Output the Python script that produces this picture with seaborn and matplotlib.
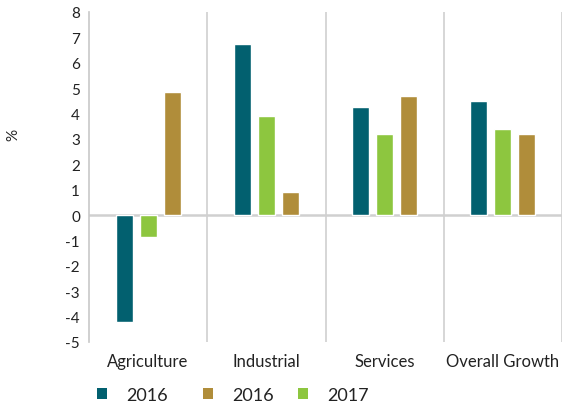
import matplotlib
matplotlib.use("Agg")
import matplotlib.pyplot as plt
from matplotlib.patches import Patch
import seaborn as sns
import pandas as pd

categories = ["Agriculture", "Industrial", "Services", "Overall Growth"]
series_2016a = [-4.2, 6.75, 4.25, 4.5]
series_2017 = [-0.85, 3.9, 3.2, 3.4]
series_2016b = [4.85, 0.9, 4.7, 3.2]
series_keys = ["2016a", "2017", "2016b"]
legend_keys = ["2016a", "2016b", "2017"]
legend_labels = ["2016", "2016", "2017"]
colors = {"2016a": "#02606F", "2017": "#8DC63F", "2016b": "#B08D3A"}
yticks = list(range(-5, 9))

rows = []
for key, vals in zip(series_keys, [series_2016a, series_2017, series_2016b]):
    for c, v in zip(categories, vals):
        rows.append({"category": c, "series": key, "value": v})
df = pd.DataFrame(rows)

sns.set_style("white")
plt.rcParams["font.family"] = ["Lato", "DejaVu Sans"]

W, H = 563, 406
fig = plt.figure(figsize=(W/100, H/100), dpi=100)
ax = fig.add_axes([89/W, 1-343/H, 473/W, 330/H])

sns.barplot(data=df, x="category", y="value", hue="series", hue_order=series_keys,
            palette=colors, width=0.61, gap=0.29, ax=ax, legend=False, saturation=1)

ax.set_ylim(-5, 8)
ax.set_xlim(-0.5, 3.5)
ax.set_yticks(yticks)
ax.set_yticklabels([str(t) for t in yticks], fontsize=11, color="#222222")
ax.tick_params(axis="y", length=0, pad=6.5)
ax.tick_params(axis="x", length=0, pad=8, labelsize=12, labelcolor="#222222")
ax.set_xlabel("")
ax.set_ylabel("%", fontsize=11, color="#222222", rotation=90)
ax.yaxis.set_label_coords(-0.145, 0.63)

for s in ["top", "right", "bottom"]:
    ax.spines[s].set_visible(False)
ax.spines["left"].set_color("#C8C8C8")
ax.spines["left"].set_linewidth(1.2)

for xb in [0.5, 1.5, 2.5, 3.5]:
    ax.axvline(xb, color="#CFCFCF", linewidth=1.2, zorder=0)
ax.axhline(0, color="#D0D0D0", linewidth=1.8, zorder=0)

marker_left_px = [97, 203, 298]
for key, lab, xl in zip(legend_keys, legend_labels, marker_left_px):
    leg = fig.legend([Patch(facecolor=colors[key], edgecolor="none")], [lab],
                     loc="center left", bbox_to_anchor=(xl/W, 1-396/H),
                     frameon=False, fontsize=13, handlelength=0.55, handleheight=0.55,
                     handletextpad=1.05, borderaxespad=0, borderpad=0)
    for t in leg.get_texts():
        t.set_color("#222222")

fig.savefig("out.png", dpi=100)
